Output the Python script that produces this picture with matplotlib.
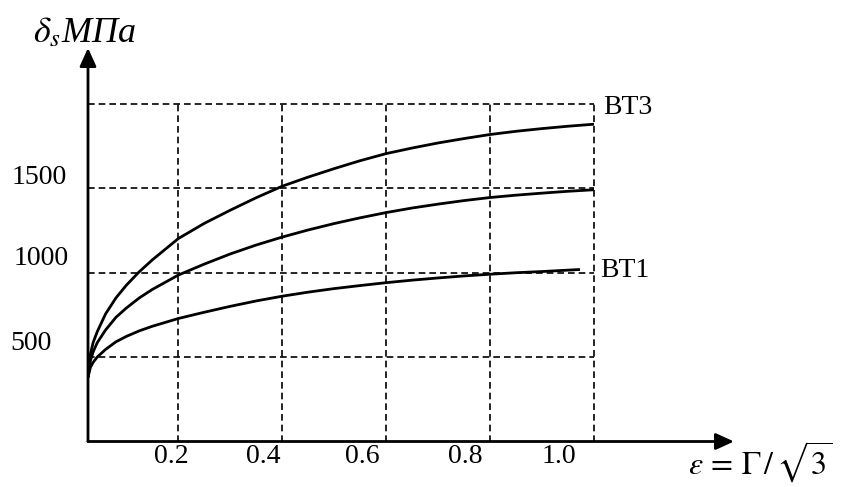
import numpy as np
import matplotlib
matplotlib.use('Agg')
import matplotlib.pyplot as plt

plt.rcParams['font.family'] = ['Liberation Serif', 'DejaVu Serif']
plt.rcParams['mathtext.fontset'] = 'stix'

# strain values
eps = [0.026, 0.031, 0.036, 0.044, 0.06, 0.08, 0.1, 0.125, 0.15, 0.2,
       0.25, 0.3, 0.35, 0.4, 0.45, 0.5, 0.55, 0.6, 0.65, 0.7, 0.75,
       0.8, 0.85, 0.9, 0.95, 1.0]
# upper curve (BT3)
sigma_bt3 = [378, 520, 585, 650, 755, 850, 925, 1005, 1075, 1201,
             1291, 1369, 1443, 1511, 1565, 1615, 1662, 1704, 1737, 1767, 1793,
             1817, 1836, 1852, 1866, 1878]
# middle curve
sigma_mid = [378, 480, 530, 585, 660, 735, 790, 850, 900, 985,
             1050, 1110, 1163, 1210, 1252, 1290, 1324, 1355, 1382, 1405, 1426,
             1444, 1458, 1470, 1481, 1490]
# lower curve (BT1)
eps_bt1 = [0.026, 0.031, 0.036, 0.044, 0.06, 0.08, 0.1, 0.125, 0.15, 0.2,
           0.25, 0.3, 0.35, 0.4, 0.45, 0.5, 0.55, 0.6, 0.65, 0.7, 0.75,
           0.8, 0.85, 0.9, 0.973]
sigma_bt1 = [378, 440, 468, 500, 545, 590, 622, 655, 682, 728,
             765, 800, 832, 860, 884, 905, 923, 940, 955, 968, 980,
             990, 999, 1006, 1018]

x_ticks = [0.2, 0.4, 0.6, 0.8, 1.0]
x_tick_labels = ['0.2', '0.4', '0.6', '0.8', '1.0']
y_ticks = [500, 1000, 1500]
y_tick_labels = ['500', '1000', '1500']
y_grid = [500, 1000, 1500, 2000]

W, H = 847, 487
fig = plt.figure(figsize=(W / 100, H / 100), dpi=100)
ax = fig.add_axes([88 / W, (H - 441.5) / H, (734 - 88) / W, (441.5 - 48) / H])
x0, x1 = 0.0262, 1.2695
y1 = 2329
ax.set_xlim(x0, x1)
ax.set_ylim(0, y1)
ax.axis('off')

dash = (0, (4, 2.4))
ax.vlines(x_ticks, 0, 2000, colors='k', linestyles=dash, lw=1.2)
ax.hlines(y_grid, x0, 1.0, colors='k', linestyles=dash, lw=1.2)

for xs, ys in [(eps, sigma_bt3), (eps, sigma_mid), (eps_bt1, sigma_bt1)]:
    ax.plot(xs, ys, color='k', lw=2.0, solid_capstyle='butt', solid_joinstyle='round')

arrow = dict(arrowstyle='-|>,head_length=0.55,head_width=0.25', lw=2.0,
             color='k', shrinkA=0, shrinkB=0, mutation_scale=20)
ax.annotate('', xy=(x1, 0), xytext=(x0, 0), arrowprops=arrow, annotation_clip=False)
ax.annotate('', xy=(x0, y1), xytext=(x0, 0), arrowprops=arrow, annotation_clip=False)

# tick labels sit slightly left of the grid lines in the original
x_shift = [-7, -19, -24, -25, -35]
for v, lab, dx in zip(x_ticks, x_tick_labels, x_shift):
    ax.annotate(lab, xy=(v, 0), xycoords='data', xytext=(dx, -15),
                textcoords='offset pixels', ha='center', va='center', fontsize=20)

y_left = [10, 14, 12]
y_up = [14, 14, 11]
for v, lab, xl, dy in zip(y_ticks, y_tick_labels, y_left, y_up):
    ax.annotate(lab, xy=(xl, v), xycoords=('figure pixels', 'data'), xytext=(0, dy),
                textcoords='offset pixels', ha='left', va='center', fontsize=20)

ax.annotate('BT3', xy=(1.0, 2000), xytext=(9, -4), textcoords='offset pixels',
            ha='left', va='center', fontsize=20)
ax.annotate('BT1', xy=(1.0, 1000), xytext=(6, 2), textcoords='offset pixels',
            ha='left', va='center', fontsize=20)

fig.text(33 / W, 1 - 42 / H, r'$\delta_s$МПа', fontsize=26, style='italic',
         ha='left', va='baseline')
fig.text(688 / W, 2 / H, r'$\varepsilon\, =\, \Gamma\,/\,\sqrt{3}$', fontsize=23,
         ha='left', va='bottom')

fig.savefig('out.png', dpi=100)
